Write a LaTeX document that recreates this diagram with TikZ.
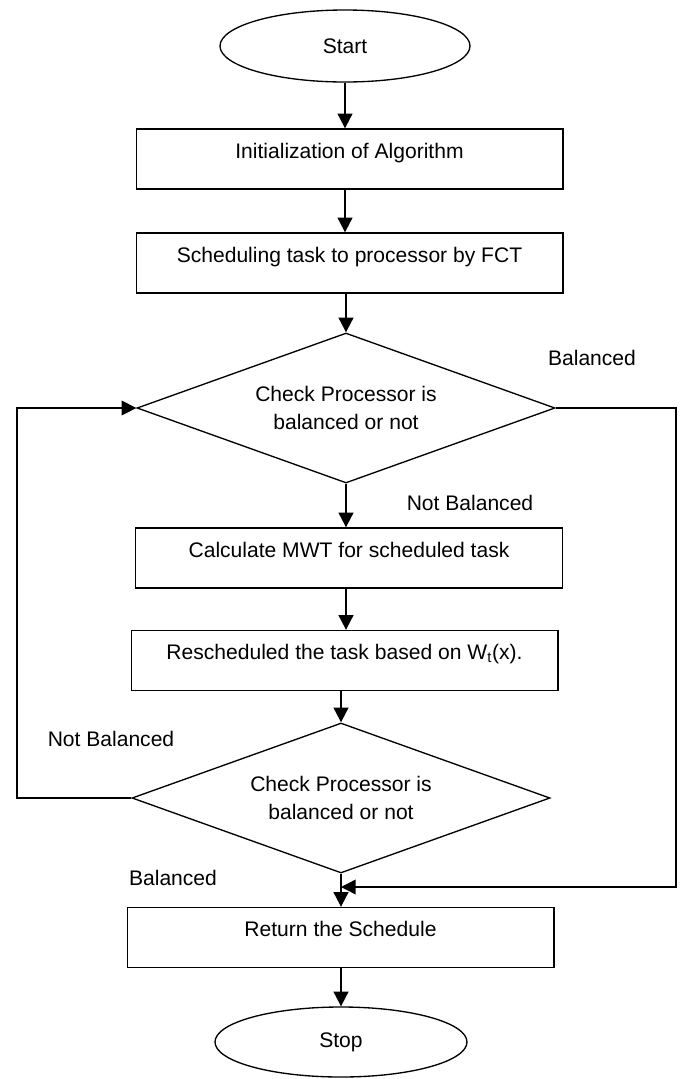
\documentclass[tikz,border=0pt]{standalone}
\usepackage{fontspec}
\setmainfont{Liberation Sans}
\usetikzlibrary{shapes.geometric,arrows.meta}

\begin{document}
\begin{tikzpicture}[x=0.75pt,y=-0.75pt]
\tikzstyle{every node}+=[font=\fontsize{15.8}{21}\selectfont]
\tikzstyle{term}=[draw,ellipse,line width=1pt,minimum width=187.5pt,minimum height=54pt,inner sep=0pt]
\tikzstyle{stepbox}=[draw,rectangle,line width=1pt,minimum width=320pt,minimum height=45pt,inner sep=0pt,text height=11.5pt,text depth=12.4pt]
\tikzstyle{check}=[draw,diamond,aspect=2.79,line width=1pt,minimum width=313.5pt,minimum height=112.5pt,inner sep=0pt,align=center]
\tikzstyle{flow}=[line width=1.5pt,-{Triangle[length=11pt,width=11pt]}]
\tikzstyle{back}=[line width=1.1pt,-{Triangle[length=11pt,width=11pt]}]
\useasboundingbox (0,0) rectangle (683,1079);
\node[term] (start) at (345,46) {Start};
\node[stepbox] (init) at (349.5,159) {Initialization of Algorithm};
\node[stepbox] (sched) at (349.5,263) {Scheduling task to processor by FCT};
\node[check] (check1) at (346,408) {Check Processor is\\balanced or not};
\node[stepbox] (mwt) at (349,558) {Calculate MWT for scheduled task};
\node[stepbox] (resched) at (344.5,660.5) {Rescheduled the task based on W\textsubscript{t}(x).};
\node[check] (check2) at (341,798) {Check Processor is\\balanced or not};
\node[stepbox] (ret) at (340.5,937.5) {Return the Schedule};
\node[term,minimum width=189pt,minimum height=52.5pt] (stop) at (341,1042) {Stop};
\node (bal1) at (592,358) {Balanced};
\node (nbal1) at (470,503) {Not Balanced};
\node (nbal2) at (111,739) {Not Balanced};
\node (bal2) at (173,878) {Balanced};
\coordinate (join) at (341,887);
\coordinate (rc) at (676,887);
\coordinate (lc) at (17,798);
\draw[flow] (start.south) -- (start.south |- init.north);
\draw[flow] (init.south -| start.south) -- (sched.north -| start.south);
\draw[flow] (sched.south -| check1.north) -- (check1.north);
\draw[flow] (check1.south) -- (check1.south |- mwt.north);
\draw[flow] (mwt.south -| check1.south) -- (resched.north -| check1.south);
\draw[flow] (resched.south -| check2.north) -- (check2.north);
\draw[flow] (check2.south) -- (check2.south |- ret.north);
\draw[flow] (ret.south -| stop.north) -- (stop.north);
\draw[back] (check1.east) -| (rc) -- (join);
\draw[back] (check2.west) -- (lc) |- (check1.west);
\end{tikzpicture}
\end{document}
